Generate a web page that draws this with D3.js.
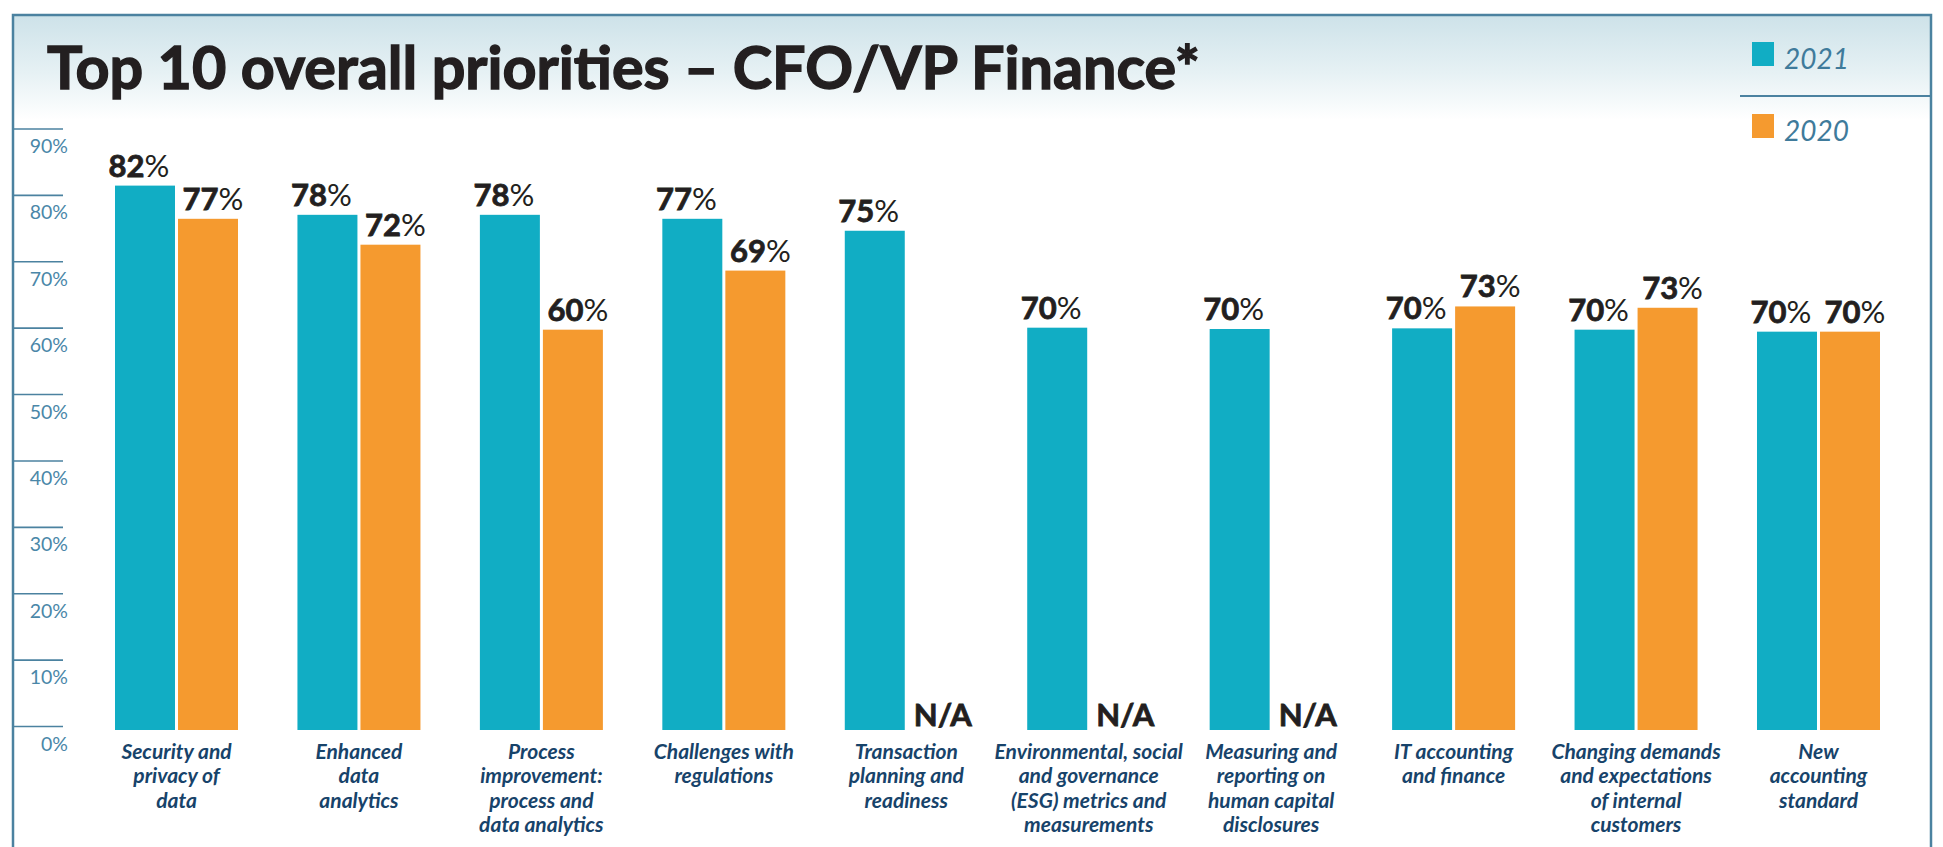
<!DOCTYPE html>
<html>
<head>
<meta charset="utf-8">
<script src="https://cdn.jsdelivr.net/npm/d3@7"></script>
<style>
  body { margin: 0; background: #fff; }
  svg { display: block; font-family: Lato, 'Open Sans', sans-serif; }
</style>
</head>
<body>
<div id="chart"></div>
<script>
// categories, split into label lines as printed
var categories = [
  ['Security and', 'privacy of', 'data'],
  ['Enhanced', 'data', 'analytics'],
  ['Process', 'improvement:', 'process and', 'data analytics'],
  ['Challenges with', 'regulations'],
  ['Transaction', 'planning and', 'readiness'],
  ['Environmental, social', 'and governance', '(ESG) metrics and', 'measurements'],
  ['Measuring and', 'reporting on', 'human capital', 'disclosures'],
  ['IT accounting', 'and finance'],
  ['Changing demands', 'and expectations', 'of internal', 'customers'],
  ['New', 'accounting', 'standard']
];
var seriesNames = ['2021', '2020'];
// printed values
var labels2021 = [82, 78, 78, 77, 75, 70, 70, 70, 70, 70];
var labels2020 = [77, 72, 60, 69, null, null, null, 73, 73, 70];
// bar heights as drawn, read against the axis
var bars2021 = [82, 77.6, 77.6, 77, 75.2, 60.6, 60.4, 60.5, 60.3, 60];
var bars2020 = [77, 73.1, 60.3, 69.2, null, null, null, 63.8, 63.6, 60];
var yTicks = [0, 10, 20, 30, 40, 50, 60, 70, 80, 90];

var W = 1943, H = 847;
var colors = { '2021': '#11adc4', '2020': '#f59a2f' };
var frameColor = '#4b82a0';
var ink = '#231f20';

var svg = d3.select('#chart').append('svg')
  .attr('width', W)
  .attr('height', H);

var defs = svg.append('defs');
var grad = defs.append('linearGradient')
  .attr('id', 'topfade')
  .attr('x1', 0).attr('y1', 0).attr('x2', 0).attr('y2', 1);
grad.append('stop').attr('offset', '0%').attr('stop-color', '#cde2e9');
grad.append('stop').attr('offset', '55%').attr('stop-color', '#e6f1f4');
grad.append('stop').attr('offset', '100%').attr('stop-color', '#ffffff');

var frame = { left: 13, top: 15, right: 1931 };

svg.append('rect')
  .attr('x', frame.left)
  .attr('y', frame.top)
  .attr('width', frame.right - frame.left)
  .attr('height', 105)
  .attr('fill', 'url(#topfade)');

svg.append('path')
  .attr('d', 'M' + frame.left + ',' + H + 'V' + frame.top + 'H' + frame.right + 'V' + H)
  .attr('fill', 'none')
  .attr('stroke', frameColor)
  .attr('stroke-width', 2.5);

// title (stroke thickens Lato Bold toward the heavier original)
svg.append('text')
  .attr('x', 47)
  .attr('y', 88.5)
  .attr('font-size', 60)
  .attr('font-weight', 700)
  .attr('fill', ink)
  .attr('stroke', ink)
  .attr('stroke-width', 1.4)
  .attr('textLength', 1153)
  .attr('lengthAdjust', 'spacingAndGlyphs')
  .text('Top 10 overall priorities \u2013 CFO/VP Finance*');

// legend
svg.append('line')
  .attr('x1', 1740).attr('x2', frame.right)
  .attr('y1', 96).attr('y2', 96)
  .attr('stroke', frameColor)
  .attr('stroke-width', 2);

var legend = svg.append('g')
  .selectAll('g')
  .data(seriesNames)
  .enter()
  .append('g')
  .attr('transform', function(d, i) { return 'translate(1752,' + (42 + i * 72) + ')'; });
legend.append('rect')
  .attr('width', 22)
  .attr('height', 24)
  .attr('fill', function(d) { return colors[d]; });
legend.append('text')
  .attr('x', 32)
  .attr('y', 27)
  .attr('font-size', 28)
  .attr('font-style', 'italic')
  .attr('fill', '#3f7b9b')
  .text(function(d) { return d; });

// scales
var y = d3.scaleLinear().domain([0, 90]).range([726, 128.5]);
var x0 = d3.scaleBand()
  .domain(d3.range(categories.length))
  .range([115, 1880])
  .paddingInner(0.3258)
  .paddingOuter(0);
var x1 = d3.scaleBand()
  .domain(seriesNames)
  .range([0, x0.bandwidth()])
  .paddingInner(0.048);

// y axis: the frame line is the axis line, ticks reach right
var yAxis = d3.axisRight(y)
  .tickValues(yTicks)
  .tickSize(50)
  .tickFormat(function(d) { return d + '%'; });

var axisG = svg.append('g')
  .attr('transform', 'translate(' + frame.left + ',0)')
  .call(yAxis);
axisG.select('.domain').remove();
axisG.selectAll('.tick line')
  .attr('stroke', frameColor)
  .attr('stroke-width', 1.6);
axisG.selectAll('.tick text')
  .attr('x', 55)
  .attr('dy', 0)
  .attr('y', 24)
  .attr('text-anchor', 'end')
  .attr('font-family', 'Lato, sans-serif')
  .attr('font-size', 19.5)
  .attr('fill', '#4a87a8');

// bars sit a few px lower than the axis zero, as in the original
var barDrop = 4;
var rows = categories.map(function(c, i) {
  return [
    { key: '2021', i: i, bar: bars2021[i], label: labels2021[i], dx: -6 },
    { key: '2020', i: i, bar: bars2020[i], label: labels2020[i], dx: 5 }
  ];
});

var groups = svg.append('g')
  .attr('transform', 'translate(0,' + barDrop + ')')
  .selectAll('g')
  .data(rows)
  .enter()
  .append('g')
  .attr('transform', function(d, i) { return 'translate(' + x0(i) + ',0)'; });

groups.selectAll('rect')
  .data(function(d) { return d.filter(function(e) { return e.bar != null; }); })
  .enter()
  .append('rect')
  .attr('x', function(d) { return x1(d.key); })
  .attr('width', x1.bandwidth())
  .attr('y', function(d) { return y(d.bar); })
  .attr('height', function(d) { return y(0) - y(d.bar); })
  .attr('fill', function(d) { return colors[d.key]; });

var valueText = groups.selectAll('text.val')
  .data(function(d) { return d; })
  .enter()
  .append('text')
  .attr('class', 'val')
  .attr('x', function(d) { return x1(d.key) + x1.bandwidth() / 2 + d.dx; })
  .attr('y', function(d) { return d.bar != null ? y(d.bar) - 9 : y(0) - barDrop; })
  .attr('text-anchor', 'middle')
  .attr('font-size', 31)
  .attr('fill', ink);

valueText.filter(function(d) { return d.label != null; })
  .each(function(d) {
    var t = d3.select(this);
    t.append('tspan')
      .attr('font-weight', 700)
      .attr('stroke', ink)
      .attr('stroke-width', 0.8)
      .text(d.label);
    t.append('tspan').attr('font-weight', 400).text('%');
  });
valueText.filter(function(d) { return d.label == null; })
  .attr('font-weight', 700)
  .attr('stroke', ink)
  .attr('stroke-width', 0.8)
  .text('N/A');

// category labels
var catText = svg.append('g')
  .selectAll('text')
  .data(categories)
  .enter()
  .append('text')
  .attr('x', function(d, i) { return x0(i) + x0.bandwidth() / 2; })
  .attr('y', 758.5)
  .attr('text-anchor', 'middle')
  .attr('font-size', 21)
  .attr('font-weight', 700)
  .attr('font-style', 'italic')
  .attr('fill', '#17436a');

catText.selectAll('tspan')
  .data(function(d, i) { return d.map(function(line) { return { line: line, i: i }; }); })
  .enter()
  .append('tspan')
  .attr('x', function(d) { return x0(d.i) + x0.bandwidth() / 2; })
  .attr('dy', function(d, j) { return j === 0 ? 0 : 24.5; })
  .text(function(d) { return d.line; });
</script>
</body>
</html>
